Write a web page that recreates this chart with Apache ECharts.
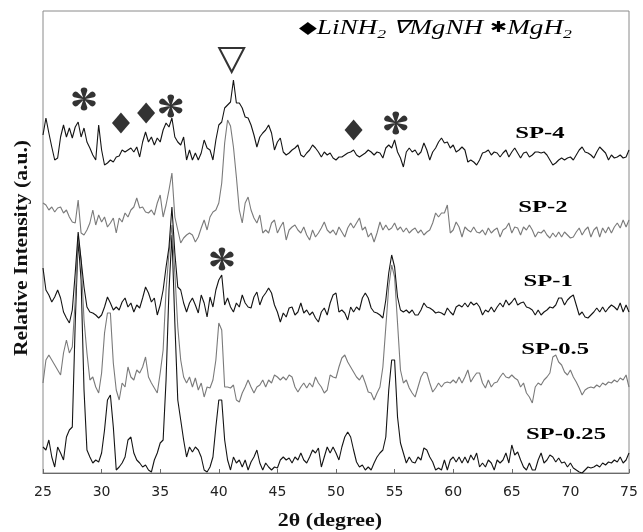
<!DOCTYPE html>
<html>
<head>
<meta charset="utf-8">
<script src="https://cdn.jsdelivr.net/npm/echarts@6/dist/echarts.min.js"></script>
<style>html,body{margin:0;padding:0;background:#fff}#c{width:643px;height:532px}</style>
</head>
<body>
<div id="c"></div>
<script>
// 2θ sampling grid (degrees)
const twoThetaStart = 25;
const twoThetaStep = 0.25;
const xTicks = [25, 30, 35, 40, 45, 50, 55, 60, 65, 70, 75];

// Relative intensity (a.u.), stacked traces, 25°..75° every 0.25°
const sp4 = [
338,355,340,326,313,315,336,348,336,345,
335,346,351,336,345,331,325,318,313,348,
323,308,310,313,311,316,317,323,321,323,
325,321,326,316,331,341,331,336,328,335,
331,343,350,346,355,336,331,328,336,313,
323,313,320,313,320,333,325,323,313,333,
348,351,365,368,371,393,370,370,365,356,
355,348,338,326,336,340,343,348,340,323,
331,335,321,318,320,323,325,328,318,316,
320,323,328,325,321,316,321,318,320,315,
313,316,316,318,320,321,323,318,316,318,
320,323,321,318,321,320,315,325,328,325,
333,321,315,306,321,325,321,323,318,321,
330,323,313,321,325,331,335,330,331,325,
328,321,323,326,323,311,313,311,308,313,
320,321,323,318,321,320,316,320,323,316,
321,325,320,315,320,321,316,318,321,321,
320,321,318,313,308,310,313,315,313,315,
316,313,318,323,326,321,320,318,315,321,
326,323,320,313,318,315,316,318,315,316,
323];
const sp2 = [
270,268,263,266,261,265,266,260,263,256,
251,250,273,240,238,243,250,263,248,258,
251,256,246,250,255,240,255,251,260,256,
263,266,275,265,266,261,260,263,258,270,
278,256,268,283,300,256,243,230,235,238,
240,238,231,236,245,253,243,256,261,263,
270,290,330,353,347,326,296,263,250,270,
276,263,255,250,258,240,243,240,250,253,
240,246,251,233,243,246,248,243,240,246,
238,233,243,236,240,245,251,243,240,243,
238,246,241,236,245,250,245,250,255,243,
246,236,240,231,240,251,243,248,243,245,
250,243,246,241,245,240,243,245,240,243,
238,241,243,250,260,256,260,260,268,240,
243,251,246,236,246,243,241,246,241,240,
243,238,245,240,243,245,236,243,245,250,
240,246,245,238,246,243,248,243,236,241,
240,243,238,235,240,236,241,236,241,238,
235,236,241,245,238,243,246,236,243,246,
236,245,240,246,240,246,250,245,253,246,
253];
const sp1 = [
205,183,178,171,176,183,175,161,155,150,
163,200,241,213,186,166,161,160,158,155,
158,166,176,170,163,166,163,171,175,166,
170,161,168,165,175,186,180,171,175,158,
168,183,206,226,266,220,186,183,170,161,
170,175,168,160,178,170,156,176,166,183,
193,198,168,175,166,161,170,166,178,170,
166,165,176,181,168,176,180,185,180,168,
161,151,160,156,165,166,158,161,170,160,
163,158,161,155,151,161,165,158,170,178,
180,161,163,160,153,166,161,166,163,175,
180,175,165,161,160,158,155,173,200,218,
206,176,163,161,163,160,163,158,158,163,
170,166,165,163,160,161,160,158,165,161,
158,166,168,166,170,166,171,168,170,166,
158,163,161,166,161,166,170,166,173,168,
171,175,168,170,171,166,165,163,158,163,
158,161,163,166,165,168,175,175,168,173,
176,178,168,158,161,156,155,158,161,165,
161,166,161,165,168,166,163,170,161,168,
161];
const sp05 = [
90,113,118,113,108,103,98,120,133,120,
126,173,237,213,153,120,93,96,86,80,
100,140,160,160,110,83,73,90,86,106,
96,93,103,100,106,116,96,90,85,80,
100,123,183,220,248,200,146,113,96,90,
96,86,95,83,90,76,86,85,93,113,
150,143,86,86,85,88,73,71,80,86,
93,86,80,86,88,93,86,93,90,98,
96,93,96,93,98,96,86,81,86,90,
85,90,86,96,90,86,80,83,98,96,
95,106,115,118,111,106,101,96,93,98,
90,81,80,73,80,86,106,146,186,208,
196,150,103,90,93,85,80,76,86,96,
101,100,90,81,85,90,86,90,91,90,
93,90,96,90,96,103,91,96,100,100,
90,85,93,86,90,91,96,100,96,95,
98,95,93,86,90,80,76,70,86,90,
88,93,96,100,116,118,111,108,101,98,
103,96,91,85,78,83,85,86,85,88,
86,90,88,91,90,93,91,95,93,98,
86];
const sp025 = [
26,23,33,16,6,26,20,13,36,43,
46,150,233,193,83,23,16,10,13,11,
20,43,73,78,46,3,6,10,16,33,
36,20,13,10,6,8,3,1,13,20,
30,33,93,183,238,150,73,53,33,16,
26,21,26,23,16,3,1,6,16,46,
73,73,33,13,3,16,10,13,6,13,
3,11,16,23,10,3,10,6,3,6,
5,13,16,13,15,10,16,13,20,13,
10,16,23,20,25,6,16,26,20,26,
20,13,26,36,41,36,23,11,6,8,
3,6,3,10,16,20,23,36,83,113,
113,56,30,20,10,16,11,10,16,13,
25,23,16,11,3,5,3,13,3,13,
16,11,16,10,16,10,18,13,20,6,
10,6,13,10,3,13,10,13,20,10,
28,18,21,13,6,3,10,3,3,13,
20,10,13,18,16,11,15,10,11,6,
10,5,3,1,0,3,6,5,6,8,
6,10,8,11,10,13,11,16,10,13,
20];

// Sample names and where their labels sit [2θ, intensity]
const sampleNames = ['SP-4', 'SP-2', 'SP-1', 'SP-0.5', 'SP-0.25'];
const sampleLabelAt = [[67.4, 339], [67.66, 265], [68.1, 191], [68.7, 123], [69.62, 38]];

// Phase markers [2θ, intensity]
const mgh2Marks = [[28.5, 374], [35.9, 367], [55.1, 350], [40.27, 214]];
const linh2Marks = [[31.65, 350], [33.8, 360], [51.5, 343]];
const mgnhMarks = [[41.1, 413]];

function toPairs(arr) { return arr.map((v, i) => [twoThetaStart + i * twoThetaStep, v]); }

// six-petal teardrop asterisk path
function asteriskPath() {
  let d = '';
  const angles = [90, 30, -30, -90, -150, 150];
  angles.forEach(a => {
    const r = a * Math.PI / 180;
    const ux = Math.cos(r), uy = -Math.sin(r);
    const px = -uy, py = ux;
    const cx = 50, cy = 50;
    const tipR = 31, rad = 11;
    const ex = cx + ux * tipR, ey = cy + uy * tipR;
    const l1x = ex + px * rad, l1y = ey + py * rad;
    const l2x = ex - px * rad, l2y = ey - py * rad;
    d += 'M' + (cx + px * 1.5).toFixed(2) + ' ' + (cy + py * 1.5).toFixed(2) +
      'L' + l1x.toFixed(2) + ' ' + l1y.toFixed(2) +
      'A' + rad + ' ' + rad + ' 0 1 0 ' + l2x.toFixed(2) + ' ' + l2y.toFixed(2) +
      'L' + (cx - px * 1.5).toFixed(2) + ' ' + (cy - py * 1.5).toFixed(2) + 'Z';
  });
  return 'path://' + d;
}

const black = '#141414', gray = '#7a7a7a';
const traces = [sp4, sp2, sp1, sp05, sp025];
const traceColors = [black, gray, black, gray, black];

const series = traces.map((t, i) => ({
  type: 'line', name: sampleNames[i], data: toPairs(t), showSymbol: false, symbol: 'none',
  smooth: false, sampling: null,
  lineStyle: { color: traceColors[i], width: 1.1 }, z: 5 - i, animation: false
}));

series.push({
  type: 'scatter', data: mgh2Marks, symbol: asteriskPath(), symbolSize: 23, silent: true, animation: false,
  itemStyle: { color: '#000' }, z: 10
});
series.push({
  type: 'scatter', data: linh2Marks, symbol: 'diamond', symbolSize: [18, 21], silent: true, animation: false,
  itemStyle: { color: '#000' }, z: 10
});
series.push({
  type: 'scatter', data: mgnhMarks, symbol: 'triangle', symbolRotate: 180, symbolSize: [25, 24], silent: true, animation: false,
  itemStyle: { color: '#fff', borderColor: '#000', borderWidth: 2 }, z: 10
});
// sample name labels, anchored at data coordinates, stretched like the original lettering
series.push({
  type: 'custom', silent: true, animation: false, z: 12,
  data: sampleLabelAt.map((p, i) => [p[0], p[1], i]),
  renderItem: function (params, api) {
    const pt = api.coord([api.value(0), api.value(1)]);
    return {
      type: 'text', x: pt[0], y: pt[1], scaleX: 1.45,
      style: { text: sampleNames[api.value(2)], fill: '#000', font: 'bold 17px "Liberation Serif"', align: 'center', verticalAlign: 'middle' }
    };
  }
});

const chart = echarts.init(document.getElementById('c'), null, { renderer: 'canvas' });
chart.setOption({
  animation: false,
  backgroundColor: '#fff',
  grid: { left: 43, right: 14, top: 11, bottom: 59, show: true, borderColor: '#8a8a8a', borderWidth: 1 },
  xAxis: {
    type: 'value', min: xTicks[0], max: xTicks[xTicks.length - 1], interval: 5,
    axisLine: { show: true, lineStyle: { color: '#6a6a6a', width: 1 } },
    axisTick: { show: true, inside: true, length: 4, lineStyle: { color: '#6a6a6a' } },
    splitLine: { show: false },
    axisLabel: { color: '#222', fontFamily: 'DejaVu Sans', fontSize: 14, margin: 12 }
  },
  yAxis: {
    type: 'value', min: 0, max: 462,
    axisLine: { show: false }, axisTick: { show: false }, axisLabel: { show: false }, splitLine: { show: false }
  },
  graphic: [
    {
      type: 'text', x: 22, y: 248, rotation: Math.PI / 2, scaleX: 1.2,
      style: { text: 'Relative Intensity (a.u.)', fill: '#111', font: 'bold 18px "Liberation Serif"', align: 'center', verticalAlign: 'middle' }
    },
    {
      type: 'text', x: 330, y: 521, scaleX: 1.22,
      style: { text: '2θ (degree)', fill: '#111', font: 'bold 18px "Liberation Serif"', align: 'center', verticalAlign: 'middle' }
    },
    {
      type: 'text', x: 299, y: 16, scaleX: 1.36,
      style: {
        text: '{d|◆}{t|LiNH}{s|2}{t| }{n|∇}{t|MgNH }{a|✱}{t|MgH}{s|2}',
        fill: '#000',
        rich: {
          d: { fontFamily: 'DejaVu Sans', fontSize: 17, lineHeight: 25, verticalAlign: 'middle' },
          t: { fontFamily: 'Liberation Serif', fontStyle: 'italic', fontSize: 20, lineHeight: 25, verticalAlign: 'middle' },
          s: { fontFamily: 'Liberation Serif', fontStyle: 'italic', fontSize: 13, lineHeight: 13, verticalAlign: 'bottom' },
          n: { fontFamily: 'Liberation Serif', fontStyle: 'italic', fontSize: 18, lineHeight: 25, verticalAlign: 'middle' },
          a: { fontFamily: 'DejaVu Sans', fontSize: 15, lineHeight: 25, verticalAlign: 'middle' }
        }
      }
    }
  ],
  series: series
});
</script>
</body>
</html>
